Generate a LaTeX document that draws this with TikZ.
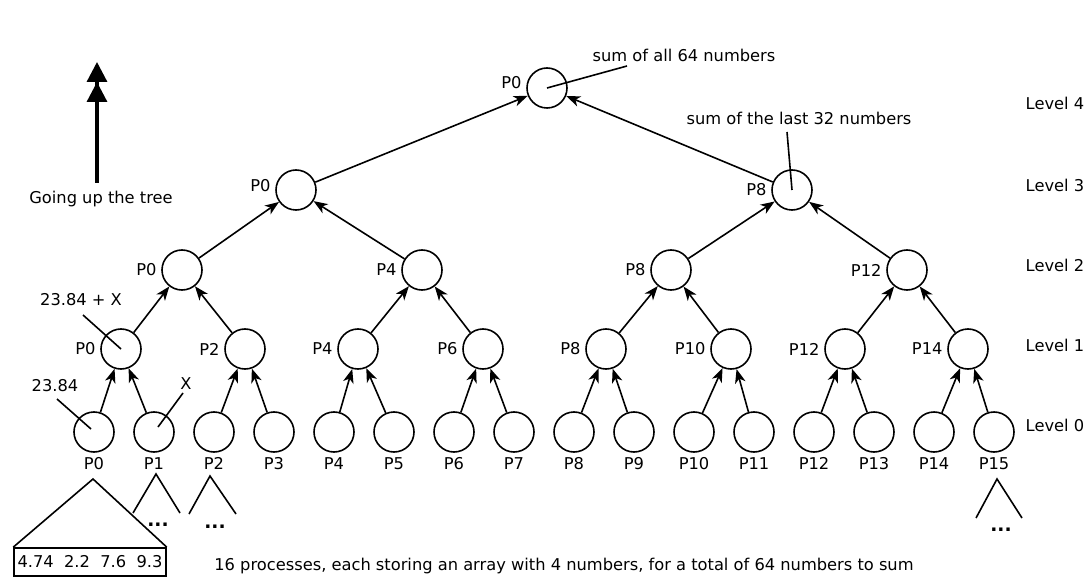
\documentclass[tikz,border=0pt]{standalone}
\usepackage{fontspec}
\setmainfont{DejaVu Sans}
\usepackage{tikz}
\usetikzlibrary{positioning, arrows.meta, calc}

\begin{document}
\begin{tikzpicture}[
    x=0.75pt, y=-0.75pt,
    every node/.style={font=\fontsize{12.2}{14}\selectfont},
    proc/.style={circle, draw=black, line width=1.2pt, minimum size=30pt, inner sep=0pt},
    arrow/.style={-{Stealth[length=10.5pt, width=8pt, inset=3pt]}, line width=1.2pt},
    note/.style={line width=1.2pt},
    lvl/.style={anchor=west},
    dots/.style={font=\fontsize{14}{16}\selectfont\bfseries}
]
    \useasboundingbox (0,0) rectangle (1087,584);

    % Level 0
    \node[proc, label=below:P0] (l0p0) at (94,432) {};
    \node[proc, label=below:P1] (l0p1) at (154,432) {};
    \node[proc, label=below:P2] (l0p2) at (214,432) {};
    \node[proc, label=below:P3] (l0p3) at (274,432) {};
    \node[proc, label=below:P4] (l0p4) at (334,432) {};
    \node[proc, label=below:P5] (l0p5) at (394,432) {};
    \node[proc, label=below:P6] (l0p6) at (454,432) {};
    \node[proc, label=below:P7] (l0p7) at (514,432) {};
    \node[proc, label=below:P8] (l0p8) at (574,432) {};
    \node[proc, label=below:P9] (l0p9) at (634,432) {};
    \node[proc, label=below:P10] (l0p10) at (694,432) {};
    \node[proc, label=below:P11] (l0p11) at (754,432) {};
    \node[proc, label=below:P12] (l0p12) at (814,432) {};
    \node[proc, label=below:P13] (l0p13) at (874,432) {};
    \node[proc, label=below:P14] (l0p14) at (934,432) {};
    \node[proc, label=below:P15] (l0p15) at (994,432) {};

    % Level 1
    \node[proc, label=left:P0] (l1p0) at (121,349) {};
    \node[proc, label=left:P2] (l1p2) at (245,349) {};
    \node[proc, label=left:P4] (l1p4) at (358,349) {};
    \node[proc, label=left:P6] (l1p6) at (483,349) {};
    \node[proc, label=left:P8] (l1p8) at (606,349) {};
    \node[proc, label=left:P10] (l1p10) at (731,349) {};
    \node[proc, label=left:P12] (l1p12) at (845,349) {};
    \node[proc, label=left:P14] (l1p14) at (968,349) {};

    % Level 2
    \node[proc, label=left:P0] (l2p0) at (182,270) {};
    \node[proc, label=left:P4] (l2p4) at (422,270) {};
    \node[proc, label=left:P8] (l2p8) at (671,270) {};
    \node[proc, label=left:P12] (l2p12) at (907,270) {};

    % Level 3 and 4
    \node[proc, label={[yshift=3pt]left:P0}] (l3p0) at (296,190) {};
    \node[proc, label=left:P8] (l3p8) at (792,190) {};
    \node[proc, label={[yshift=4pt]left:P0}] (l4p0) at (547,88) {};

    % Arrows
    \draw[arrow] (l0p0) -- (l1p0);
    \draw[arrow] (l0p1) -- (l1p0);
    \draw[arrow] (l0p2) -- (l1p2);
    \draw[arrow] (l0p3) -- (l1p2);
    \draw[arrow] (l0p4) -- (l1p4);
    \draw[arrow] (l0p5) -- (l1p4);
    \draw[arrow] (l0p6) -- (l1p6);
    \draw[arrow] (l0p7) -- (l1p6);
    \draw[arrow] (l0p8) -- (l1p8);
    \draw[arrow] (l0p9) -- (l1p8);
    \draw[arrow] (l0p10) -- (l1p10);
    \draw[arrow] (l0p11) -- (l1p10);
    \draw[arrow] (l0p12) -- (l1p12);
    \draw[arrow] (l0p13) -- (l1p12);
    \draw[arrow] (l0p14) -- (l1p14);
    \draw[arrow] (l0p15) -- (l1p14);
    \draw[arrow] (l1p0) -- (l2p0);
    \draw[arrow] (l1p2) -- (l2p0);
    \draw[arrow] (l1p4) -- (l2p4);
    \draw[arrow] (l1p6) -- (l2p4);
    \draw[arrow] (l1p8) -- (l2p8);
    \draw[arrow] (l1p10) -- (l2p8);
    \draw[arrow] (l1p12) -- (l2p12);
    \draw[arrow] (l1p14) -- (l2p12);
    \draw[arrow] (l2p0) -- (l3p0);
    \draw[arrow] (l2p4) -- (l3p0);
    \draw[arrow] (l2p8) -- (l3p8);
    \draw[arrow] (l2p12) -- (l3p8);
    \draw[arrow] (l3p0) -- (l4p0);
    \draw[arrow] (l3p8) -- (l4p0);

    % Level labels
    \node[lvl] (lv4) at (1021,103) {Level 4};
    \node[lvl] (lv3) at (1021,185) {Level 3};
    \node[lvl] (lv2) at (1021,265) {Level 2};
    \node[lvl] (lv1) at (1021,345) {Level 1};
    \node[lvl] (lv0) at (1021,425) {Level 0};

    % Going up
    \coordinate (upbot) at (97,183);
    \coordinate (uptop) at (97,62);
    \draw[line width=2.4pt, -{Triangle[length=15pt, width=15pt] Triangle[length=15pt, width=15pt]}] (upbot) -- (uptop);
    \node (going) at (101,199) {Going up the tree};

    % Notes
    \node (sumall) at (684,55) {sum of all 64 numbers};
    \coordinate (sumallend) at (627,66);
    \draw[note] (sumallend) -- (l4p0.center);
    \node (sumlast) at (799,118) {sum of the last 32 numbers};
    \coordinate (sumlastend) at (787,132);
    \draw[note] (sumlastend) -- (l3p8.center);
    \node (sumx) at (81,300) {23.84 + X};
    \coordinate (sumxend) at (83,315);
    \draw[note] (sumxend) -- (l1p0.center);
    \node (val) at (55,386) {23.84};
    \coordinate (valend) at (57,399);
    \draw[note] (valend) -- ($(l0p0.center)+(-3,-3)$);
    \node (xval) at (186,384) {X};
    \coordinate (xvalend) at (183,393);
    \draw[note] (xvalend) -- ($(l0p1.center)+(4,-5)$);

    % Arrays
    \node[draw, line width=1.2pt, minimum width=114pt, minimum height=21pt, inner sep=0pt] (arr) at (90,562) {4.74\ \ 2.2\ \ 7.6\ \ 9.3};
    \coordinate (t0) at (93,479);
    \draw[note] (arr.north west) -- (t0) -- (arr.north east);
    \draw[note] (133,513) -- (156,474) -- (180,513);
    \node[dots] (d1) at (158,525) {...};
    \draw[note] (189,514) -- (210,476) -- (236,514);
    \node[dots] (d2) at (215,527) {...};
    \draw[note] (976,518) -- (997,479) -- (1022,518);
    \node[dots] (d15) at (1001,530) {...};

    % Bottom text
    \node (bottom) at (564,566) {16 processes, each storing an array with 4 numbers, for a total of 64 numbers to sum};

\end{tikzpicture}
\end{document}
